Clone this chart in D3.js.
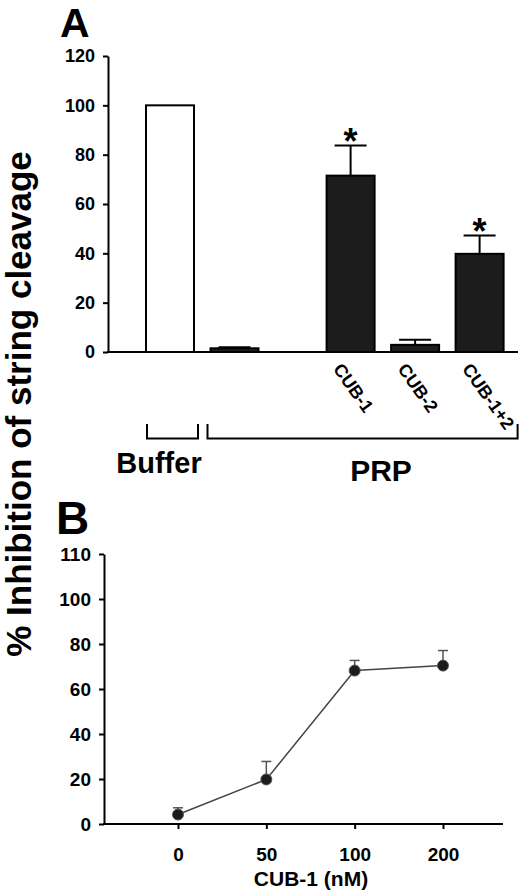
<!DOCTYPE html>
<html>
<head>
<meta charset="utf-8">
<script src="https://cdn.jsdelivr.net/npm/d3@7"></script>
<style>
    body { margin: 0; background: #fff; }
    svg { display: block; font-family: "Liberation Sans", Arial, sans-serif; }
    .axis path, .axis line { stroke: #000; stroke-width: 2px; }
    .axis text { font-family: "Liberation Sans", Arial, sans-serif; font-weight: bold; fill: #000; }
</style>
</head>
<body>
<div id="chart"></div>
<script>

// panel A - bar chart
const barGroups = ["Buffer", "PRP", "CUB-1", "CUB-2", "CUB-1+2"];
const barValues = [100, 1.5, 71.5, 2.9, 39.8];
const barErrors = [0, 0.4, 12.2, 2.1, 7.4];
const barSignif = [false, false, true, false, true];
const barTickLabels = ["", "", "CUB-1", "CUB-2", "CUB-1+2"];
const yTicksA = [0, 20, 40, 60, 80, 100, 120];

// panel B - dose response
const doseLabels = ["0", "50", "100", "200"];
const doseValues = [4.2, 19.8, 68.2, 70.4];
const doseErrors = [3.0, 8.0, 4.5, 6.7];
const yTicksB = [0, 20, 40, 60, 80, 100, 120];
const yTickLabelsB = ["0", "20", "40", "60", "80", "100", "110"];

let svg = d3.select("#chart").append("svg")
    .attr("width", 520)
    .attr("height", 894);

/* * * * * panel A * * * * */

// extra space between the PRP bar and the CUB bars
let slot = i => i + (i >= 2 ? 0.8 : 0);

let xA = d3.scaleLinear()
    .domain([0, 4.8])
    .range([170, 479.6]);

let yA = d3.scaleLinear()
    .domain([0, 120])
    .range([352, 56]);

let barW = 48;

let barData = barGroups.map((g, i) => ({
    group: g,
    pos: slot(i),
    value: barValues[i],
    err: barErrors[i],
    star: barSignif[i],
    label: barTickLabels[i]
}));

svg.append("g")
    .attr("class", "y-axis axis")
    .attr("transform", "translate(108,0)")
    .call(d3.axisLeft(yA).tickValues(yTicksA).tickSize(5).tickPadding(8).tickSizeOuter(0))
    .selectAll("text")
    .style("font-size", "18px");

// error bars (drawn under bars)
let errA = svg.append("g").selectAll("g")
    .data(barData.filter(d => d.err > 0))
    .enter().append("g");

errA.append("line")
    .attr("x1", d => xA(d.pos)).attr("x2", d => xA(d.pos))
    .attr("y1", d => yA(d.value)).attr("y2", d => yA(d.value + d.err))
    .attr("stroke", "#000").attr("stroke-width", 2);

errA.append("line")
    .attr("x1", d => xA(d.pos) - 16).attr("x2", d => xA(d.pos) + 16)
    .attr("y1", d => yA(d.value + d.err)).attr("y2", d => yA(d.value + d.err))
    .attr("stroke", "#000").attr("stroke-width", 2);

svg.append("g").selectAll("rect")
    .data(barData)
    .enter().append("rect")
    .attr("x", d => xA(d.pos) - barW / 2)
    .attr("width", barW)
    .attr("y", d => yA(d.value))
    .attr("height", d => yA(0) - yA(d.value))
    .attr("fill", d => d.group === "Buffer" ? "#fff" : "#1c1c1c")
    .attr("stroke", "#000")
    .attr("stroke-width", 2);

// asterisks
svg.append("g").selectAll("text")
    .data(barData.filter(d => d.star))
    .enter().append("text")
    .attr("x", d => xA(d.pos))
    .attr("y", d => yA(d.value + d.err) + 8)
    .attr("text-anchor", "middle")
    .style("font-size", "36px")
    .style("font-weight", "bold")
    .text("*");

// x axis line
svg.append("line")
    .attr("x1", 107).attr("x2", 518)
    .attr("y1", yA(0)).attr("y2", yA(0))
    .attr("stroke", "#000").attr("stroke-width", 2);

// rotated group labels
svg.append("g").selectAll("text")
    .data(barData.filter(d => d.label !== ""))
    .enter().append("text")
    .attr("transform", d => `translate(${xA(d.pos) - 18},369) rotate(55)`)
    .style("font-size", "18px")
    .style("font-weight", "bold")
    .text(d => d.label);

// brackets
let bracket = (x1, x2) => {
    svg.append("path")
        .attr("d", `M${x1},424V438.5H${x2}V424`)
        .attr("fill", "none")
        .attr("stroke", "#000")
        .attr("stroke-width", 2);
};
bracket(xA(0) - 23, xA(0) + 28);
bracket(xA(1) - 27, xA(4.8) + 38);

svg.append("text")
    .attr("x", 159).attr("y", 473)
    .attr("text-anchor", "middle")
    .style("font-size", "29px").style("font-weight", "bold")
    .text("Buffer");

svg.append("text")
    .attr("x", 381).attr("y", 481)
    .attr("text-anchor", "middle")
    .style("font-size", "30px").style("font-weight", "bold")
    .text("PRP");

svg.append("text")
    .attr("x", 60).attr("y", 37)
    .style("font-size", "41px").style("font-weight", "bold")
    .text("A");

/* * * * * panel B * * * * */

let xB = d3.scalePoint()
    .domain(doseLabels)
    .range([178, 443]);

let yB = d3.scaleLinear()
    .domain([0, 120])
    .range([824, 554]);

svg.append("g")
    .attr("class", "y-axis axis")
    .attr("transform", "translate(104,0)")
    .call(d3.axisLeft(yB).tickValues(yTicksB).tickSize(5).tickPadding(8).tickSizeOuter(0)
        .tickFormat((d, i) => yTickLabelsB[i]))
    .selectAll("text")
    .style("font-size", "19px");

let xAxisB = svg.append("g")
    .attr("class", "x-axis axis")
    .attr("transform", "translate(0,824)")
    .call(d3.axisBottom(xB).tickSize(5).tickPadding(19).tickSizeOuter(0));
xAxisB.select(".domain").remove();
xAxisB.selectAll("text").style("font-size", "19px");
xAxisB.append("line")
    .attr("x1", 103).attr("x2", 503)
    .attr("stroke", "#000").attr("stroke-width", 2);

let doseData = doseLabels.map((c, i) => ({conc: c, value: doseValues[i], err: doseErrors[i]}));

let errB = svg.append("g").selectAll("g")
    .data(doseData)
    .enter().append("g");

errB.append("line")
    .attr("x1", d => xB(d.conc)).attr("x2", d => xB(d.conc))
    .attr("y1", d => yB(d.value)).attr("y2", d => yB(d.value + d.err))
    .attr("stroke", "#555").attr("stroke-width", 1.5);

errB.append("line")
    .attr("x1", d => xB(d.conc) - 5).attr("x2", d => xB(d.conc) + 5)
    .attr("y1", d => yB(d.value + d.err)).attr("y2", d => yB(d.value + d.err))
    .attr("stroke", "#555").attr("stroke-width", 1.5);

svg.append("path")
    .datum(doseData)
    .attr("fill", "none")
    .attr("stroke", "#444")
    .attr("stroke-width", 1.5)
    .attr("d", d3.line().x(d => xB(d.conc)).y(d => yB(d.value)));

svg.append("g").selectAll("circle")
    .data(doseData)
    .enter().append("circle")
    .attr("cx", d => xB(d.conc))
    .attr("cy", d => yB(d.value))
    .attr("r", 5.5)
    .attr("fill", "#1c1c1c")
    .attr("stroke", "#555")
    .attr("stroke-width", 1);

svg.append("text")
    .attr("x", 311).attr("y", 886)
    .attr("text-anchor", "middle")
    .style("font-size", "21px").style("font-weight", "bold")
    .text("CUB-1 (nM)");

svg.append("text")
    .attr("x", 56).attr("y", 534)
    .style("font-size", "46px").style("font-weight", "bold")
    .text("B");

// shared y title
svg.append("text")
    .attr("transform", "translate(31,404) rotate(-90)")
    .attr("text-anchor", "middle")
    .style("font-size", "35px").style("font-weight", "bold")
    .text("% Inhibition of string cleavage");

</script>
</body>
</html>
